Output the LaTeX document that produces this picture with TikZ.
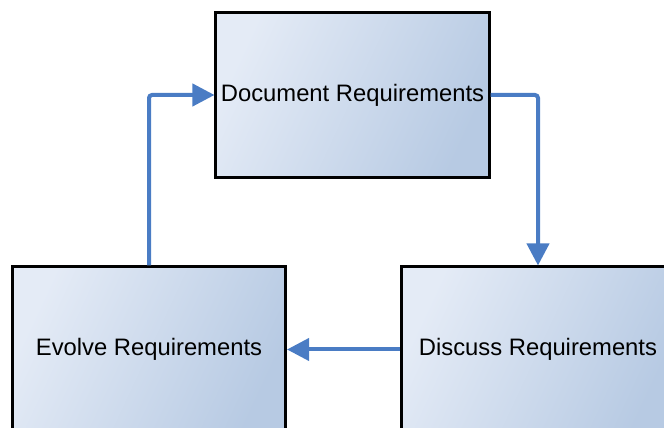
\documentclass[tikz,border=0pt]{standalone}
\usepackage{fontspec}
\setmainfont{Liberation Sans}
\usepackage{tikz}
\usetikzlibrary{positioning}
\usetikzlibrary{arrows.meta}
\definecolor{boxlight}{HTML}{E4EBF6}
\definecolor{boxdark}{HTML}{B7CAE3}
\definecolor{flowblue}{HTML}{4A7CC4}
\newlength{\ReqFigureUnit}
\setlength{\ReqFigureUnit}{0.5bp}
\newcommand{\ReqFigureFont}{\fontsize{11.9bp}{14bp}\selectfont}

\begin{document}
\begin{tikzpicture}[x=\ReqFigureUnit,y=-\ReqFigureUnit]
                \tikzset{
                    req step/.style={draw=black, line width=1.5bp,
                        top color=boxlight, bottom color=boxdark, shading angle=65,
                        minimum width=136.5bp, minimum height=82.5bp,
                        inner sep=0pt, font=\ReqFigureFont},
                    req flow/.style={-{Triangle[length=11bp, width=11bp]},
                        line width=2bp, draw=flowblue, rounded corners=1.5bp}
                }
                \useasboundingbox (0,0) rectangle (664,428);
                \clip (0,0) rectangle (664,428);
                \node[req step] (req-document) at (352.5,95) {Document Requirements};
                \node[req step] (req-evolve) at (149,349.5) {Evolve Requirements};
                \node[req step] (req-discuss) at (538,349.5) {Discuss Requirements};
                % cycle: document -> discuss -> evolve -> document
                \draw[req flow] (req-document.east) -| (req-discuss.north);
                \draw[req flow] (req-discuss.west) -- (req-evolve.east);
                \draw[req flow] (req-evolve.north) |- (req-document.west);
\end{tikzpicture}
\end{document}
